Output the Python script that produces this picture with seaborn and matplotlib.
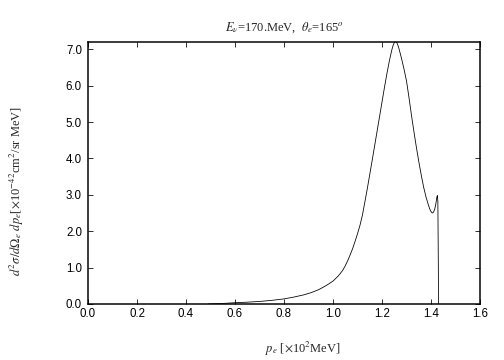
import numpy as np
import pandas as pd
import matplotlib
matplotlib.use("Agg")
import matplotlib.pyplot as plt
import seaborn as sns

# electron momentum p_e [x10^2 MeV] and cross section [x10^-42 cm^2/sr MeV]
p_e = [0.49, 0.55, 0.60, 0.65, 0.70, 0.75, 0.80, 0.84, 0.88, 0.91,
       0.94, 0.96, 0.98, 1.00, 1.02, 1.03, 1.04, 1.05, 1.06, 1.07,
       1.08, 1.09, 1.10, 1.11, 1.12, 1.13, 1.14, 1.15, 1.16, 1.17,
       1.18, 1.19, 1.20, 1.21, 1.22, 1.23, 1.24, 1.245, 1.25, 1.255,
       1.26, 1.265, 1.27, 1.28, 1.29, 1.30, 1.31, 1.32, 1.33, 1.34,
       1.35, 1.36, 1.37, 1.38, 1.39, 1.395, 1.40, 1.405, 1.41, 1.415,
       1.42, 1.424, 1.426, 1.428, 1.430, 1.4305]
xsec = [0.0, 0.015, 0.035, 0.05, 0.07, 0.10, 0.14, 0.19, 0.25, 0.31,
        0.39, 0.46, 0.54, 0.63, 0.76, 0.84, 0.93, 1.05, 1.19, 1.35,
        1.52, 1.72, 1.93, 2.16, 2.44, 2.80, 3.17, 3.56, 3.95, 4.35,
        4.75, 5.15, 5.55, 5.95, 6.33, 6.68, 6.98, 7.10, 7.18, 7.22,
        7.19, 7.11, 7.00, 6.74, 6.45, 6.13, 5.68, 5.20, 4.75, 4.32,
        3.92, 3.55, 3.21, 2.93, 2.71, 2.61, 2.54, 2.50, 2.52, 2.60,
        2.76, 2.94, 2.98, 2.82, 1.0, 0.0]

xticks = [0.0, 0.2, 0.4, 0.6, 0.8, 1.0, 1.2, 1.4, 1.6]
yticks = [0.0, 1.0, 2.0, 3.0, 4.0, 5.0, 6.0, 7.0]

df = pd.DataFrame({"p_e": p_e, "xsec": xsec})

sns.set_style("ticks")
plt.rcParams["font.family"] = ["Liberation Sans", "DejaVu Sans"]
plt.rcParams["mathtext.fontset"] = "stix"

fig = plt.figure(figsize=(7, 5), dpi=72)
ax = fig.add_axes([88 / 504, 56 / 360, 392 / 504, 262 / 360])

sns.lineplot(data=df, x="p_e", y="xsec", ax=ax, color="black",
             linewidth=0.8, sort=False, estimator=None)

ax.set_xlim(0.0, 1.6)
ax.set_ylim(0.0, 7.2)
ax.set_xticks(xticks)
ax.set_yticks(yticks)
ax.set_xticklabels([f"{v:.1f}" for v in xticks])
ax.set_yticklabels([f"{v:.1f}" for v in yticks])
ax.tick_params(direction="in", length=5, width=0.8, top=True, right=True,
               labelsize=11.5, colors="black")
ax.tick_params(axis="x", pad=4)
ax.tick_params(axis="y", pad=6)
for s in ax.spines.values():
    s.set_linewidth(1.5)
    s.set_color("black")

serif = {"family": ["Liberation Serif", "DejaVu Serif"], "size": 12.5}
ax.set_title(r"$E_\nu$=170.MeV,  $\theta_e$=165$^o$", fontdict=serif, pad=11)
ax.set_xlabel(r"$p_e$ [$\times$10$^2$MeV]", fontdict=serif)
ax.set_ylabel(r"$d^2\sigma/d\Omega_e\ dp_e$[$\times$10$^{-42}$cm$^2$/sr MeV]",
              fontdict=serif)
ax.xaxis.set_label_coords(0.547, -0.172)
ax.yaxis.set_label_coords(-0.181, 0.43)
ax.xaxis.label.set_va("center")
ax.yaxis.label.set_va("center")

fig.savefig("out.png", dpi=72)
plt.close(fig)
